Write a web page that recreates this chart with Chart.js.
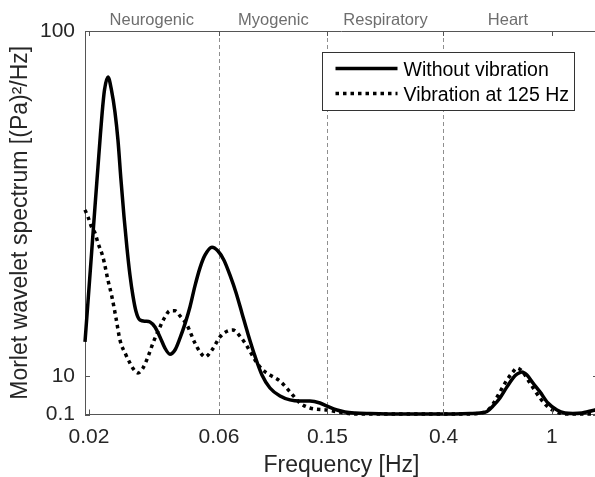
<!DOCTYPE html>
<html>
<head>
<meta charset="utf-8">
<script src="https://cdn.jsdelivr.net/npm/chart.js@4.4.1/dist/chart.umd.min.js"></script>
<style>
  html, body { margin: 0; padding: 0; background: #fff; overflow: hidden; }
  #wrap { width: 600px; height: 477px; }
</style>
</head>
<body>
<div id="wrap"><canvas id="chart"></canvas></div>
<script>
// values (frequency in Hz, spectrum in (Pa)^2/Hz)
const solidFreq = [0.01934, 0.01983, 0.02051, 0.02104, 0.02158, 0.02195, 0.02232, 0.02280, 0.02348, 0.02419,
  0.02491, 0.02555, 0.02621, 0.02688, 0.02757, 0.02828, 0.02900, 0.02975, 0.03077, 0.03230,
  0.03349, 0.03493, 0.03644, 0.03801, 0.03965, 0.04136, 0.04315, 0.04501, 0.04695, 0.04898,
  0.05110, 0.05330, 0.05655, 0.05949, 0.06258, 0.06585, 0.06926, 0.07286, 0.07665, 0.08133,
  0.08628, 0.09231, 0.1005, 0.1093, 0.1190, 0.1294, 0.1408, 0.1494, 0.1626, 0.1740,
  0.1893, 0.2149, 0.2769, 0.3883, 0.5002, 0.5444, 0.5775, 0.6076, 0.6446, 0.6839,
  0.7195, 0.7442, 0.7763, 0.8099, 0.8520, 0.9039, 0.9670, 1.0435, 1.1165, 1.1945,
  1.2890, 1.4386, 1.476];
const solidPower = [19.0, 29.4, 43.5, 54.2, 64.6, 71.6, 78.1, 84.6, 88.0, 84.6,
  78.9, 71.6, 61.2, 51.8, 43.5, 36.4, 31.0, 27.0, 24.7, 24.4,
  24.2, 22.9, 20.3, 17.4, 15.8, 16.9, 20.0, 23.7, 28.1, 33.6,
  38.3, 41.6, 43.7, 42.7, 40.3, 36.4, 31.9, 26.5, 21.1, 15.3,
  10.4, 7.0, 4.9, 3.9, 3.6, 3.6, 3.1, 2.3, 1.27, 0.75,
  0.49, 0.36, 0.23, 0.23, 0.36, 0.49, 0.88, 2.3, 4.4, 7.3,
  9.6, 10.6, 11.2, 10.4, 8.3, 6.0, 3.1, 1.27, 0.49, 0.36,
  0.49, 1.27, 1.5];

const dottedFreq = [0.01934, 0.01983, 0.02051, 0.02104, 0.02158, 0.02251, 0.02348, 0.02429, 0.02512, 0.02599,
  0.02734, 0.02828, 0.02950, 0.03026, 0.03156, 0.03292, 0.03435, 0.03644, 0.03801, 0.03965,
  0.04136, 0.04315, 0.04578, 0.04898, 0.05110, 0.05330, 0.05655, 0.06050, 0.06419, 0.06753,
  0.07164, 0.07601, 0.08133, 0.08628, 0.09231, 0.1005, 0.1093, 0.1190, 0.1294, 0.1494,
  0.1740, 0.1893, 0.2769, 0.5002, 0.5444, 0.5775, 0.6076, 0.6446, 0.6839, 0.7195,
  0.7442, 0.7763, 0.8306, 0.9039, 0.9670, 1.0435, 1.1165, 1.476];
const dottedPower = [53.4, 51.6, 48.7, 47.4, 44.8, 41.1, 35.1, 30.7, 25.3, 19.5,
  15.6, 13.5, 11.4, 10.9, 12.2, 15.1, 18.7, 22.9, 25.5, 27.1,
  27.1, 25.8, 23.4, 18.7, 16.4, 15.1, 16.9, 20.3, 21.8, 22.1,
  20.5, 17.9, 14.3, 11.9, 10.4, 8.8, 6.0, 3.1, 1.8, 1.27,
  0.49, 0.23, 0.23, 0.23, 0.49, 1.0, 2.8, 6.0, 9.1, 11.2,
  12.2, 11.4, 8.3, 4.4, 2.05, 0.75, 0.23, 0.23];

const seriesNames = ['Without vibration', 'Vibration at 125 Hz'];

const xTicks = [0.02, 0.06, 0.15, 0.4, 1];
const xTickLabels = ['0.02', '0.06', '0.15', '0.4', '1'];
const yTicks = [0.1, 10, 100];
const yTickLabels = ['0.1', '10', '100'];

// frequency bands marked at the top of the plot
const bandEdges = [0.06, 0.15, 0.4];
const bandNames = ['Neurogenic', 'Myogenic', 'Respiratory', 'Heart'];
const bandCenters = [0.034, 0.095, 0.245, 0.69];

const FONT = "'Liberation Sans', Arial, Helvetica, sans-serif";
const AXIS = '#555555';
const TEXT = '#262626';

// draws the MATLAB-like box: band lines, top edge, inward ticks, band names, legend
const framePlugin = {
    id: 'frame',
    beforeDatasetsDraw(chart) {
        const { ctx, chartArea: a, scales: { x } } = chart;
        ctx.save();
        ctx.strokeStyle = '#8f8f8f';
        ctx.lineWidth = 1;
        ctx.setLineDash([4, 3]);
        bandEdges.forEach(f => {
            const px = Math.round(x.getPixelForValue(f)) + 0.5;
            ctx.beginPath();
            ctx.moveTo(px, a.top);
            ctx.lineTo(px, a.bottom);
            ctx.stroke();
        });
        ctx.restore();
    },
    afterDraw(chart) {
        const { ctx, chartArea: a, scales: { x, y } } = chart;
        ctx.save();
        ctx.strokeStyle = AXIS;
        ctx.lineWidth = 1;

        // top edge
        ctx.beginPath();
        ctx.moveTo(a.left, Math.round(a.top) + 0.5);
        ctx.lineTo(a.right, Math.round(a.top) + 0.5);
        ctx.stroke();

        // inward ticks
        const tl = 5;
        ctx.beginPath();
        xTicks.forEach(v => {
            const px = Math.round(x.getPixelForValue(v)) + 0.5;
            ctx.moveTo(px, a.top); ctx.lineTo(px, a.top + tl);
            ctx.moveTo(px, a.bottom); ctx.lineTo(px, a.bottom - tl);
        });
        yTicks.forEach(v => {
            const py = Math.round(y.getPixelForValue(v)) + 0.5;
            ctx.moveTo(a.left, py); ctx.lineTo(a.left + tl, py);
            ctx.moveTo(a.right, py); ctx.lineTo(a.right - tl, py);
        });
        ctx.stroke();

        // band names
        ctx.fillStyle = '#6e6e6e';
        ctx.font = '16.5px ' + FONT;
        ctx.textAlign = 'center';
        ctx.textBaseline = 'alphabetic';
        bandNames.forEach((name, i) => {
            ctx.fillText(name, x.getPixelForValue(bandCenters[i]), a.top - 6);
        });

        // legend
        const bx = Math.round(a.right - 276) + 0.5;
        const by = Math.round(a.top + 21) + 0.5;
        const bw = 252, bh = 58;
        ctx.fillStyle = '#ffffff';
        ctx.fillRect(bx, by, bw, bh);
        ctx.strokeStyle = '#333333';
        ctx.strokeRect(bx, by, bw, bh);

        chart.data.datasets.forEach((ds, i) => {
            const ly = by + 16 + i * 25;
            ctx.strokeStyle = ds.borderColor;
            ctx.lineWidth = ds.borderWidth;
            ctx.lineCap = 'butt';
            ctx.setLineDash(ds.borderDash || []);
            ctx.beginPath();
            ctx.moveTo(bx + 13, ly);
            ctx.lineTo(bx + 75, ly);
            ctx.stroke();
            ctx.setLineDash([]);
            ctx.fillStyle = '#000000';
            ctx.font = '19.5px ' + FONT;
            ctx.textAlign = 'left';
            ctx.fillText(ds.label, bx + 81, ly + 7.5);
        });
        ctx.restore();
    }
};

const ctx = document.getElementById('chart').getContext('2d');
new Chart(ctx, {
    type: 'line',
    data: {
        datasets: [{
            label: seriesNames[0],
            data: solidFreq.map((f, i) => ({ x: f, y: solidPower[i] })),
            borderColor: '#000000',
            borderWidth: 3.5,
            pointRadius: 0,
            cubicInterpolationMode: 'monotone',
            clip: 4,
            fill: false
        }, {
            label: seriesNames[1],
            data: dottedFreq.map((f, i) => ({ x: f, y: dottedPower[i] })),
            borderColor: '#000000',
            borderWidth: 3.5,
            borderDash: [3.5, 4],
            borderCapStyle: 'butt',
            pointRadius: 0,
            cubicInterpolationMode: 'monotone',
            clip: 4,
            fill: false
        }]
    },
    options: {
        responsive: true,
        maintainAspectRatio: false,
        animation: false,
        layout: { padding: { top: 31, right: 2, left: 0, bottom: 0 } },
        plugins: {
            legend: { display: false },
            tooltip: { enabled: false }
        },
        scales: {
            x: {
                type: 'logarithmic',
                min: 0.01934,
                max: 1.476,
                afterBuildTicks: s => { s.ticks = xTicks.map(v => ({ value: v })); },
                afterFit: s => { s.height = 62.5; },
                ticks: {
                    autoSkip: false,
                    maxRotation: 0,
                    padding: 10,
                    color: TEXT,
                    font: { family: FONT, size: 21 },
                    callback: (v, i) => xTickLabels[i]
                },
                grid: { drawOnChartArea: false, drawTicks: false },
                border: { display: true, color: AXIS, width: 1 },
                title: {
                    display: true,
                    text: 'Frequency [Hz]',
                    color: TEXT,
                    font: { family: FONT, size: 23, lineHeight: 1 },
                    padding: 0
                }
            },
            y: {
                type: 'linear',
                min: 0.1,
                max: 100,
                afterBuildTicks: s => { s.ticks = yTicks.map(v => ({ value: v })); },
                afterFit: s => { s.width = 85; },
                ticks: {
                    padding: 10,
                    color: TEXT,
                    font: { family: FONT, size: 21 },
                    callback: (v, i) => yTickLabels[i]
                },
                grid: { drawOnChartArea: false, drawTicks: false },
                border: { display: true, color: AXIS, width: 1 },
                title: {
                    display: true,
                    text: 'Morlet wavelet spectrum [(Pa)²/Hz]',
                    color: TEXT,
                    font: { family: FONT, size: 23, lineHeight: 1 },
                    padding: { top: 9, bottom: 0 }
                }
            }
        }
    },
    plugins: [framePlugin]
});
</script>
</body>
</html>
